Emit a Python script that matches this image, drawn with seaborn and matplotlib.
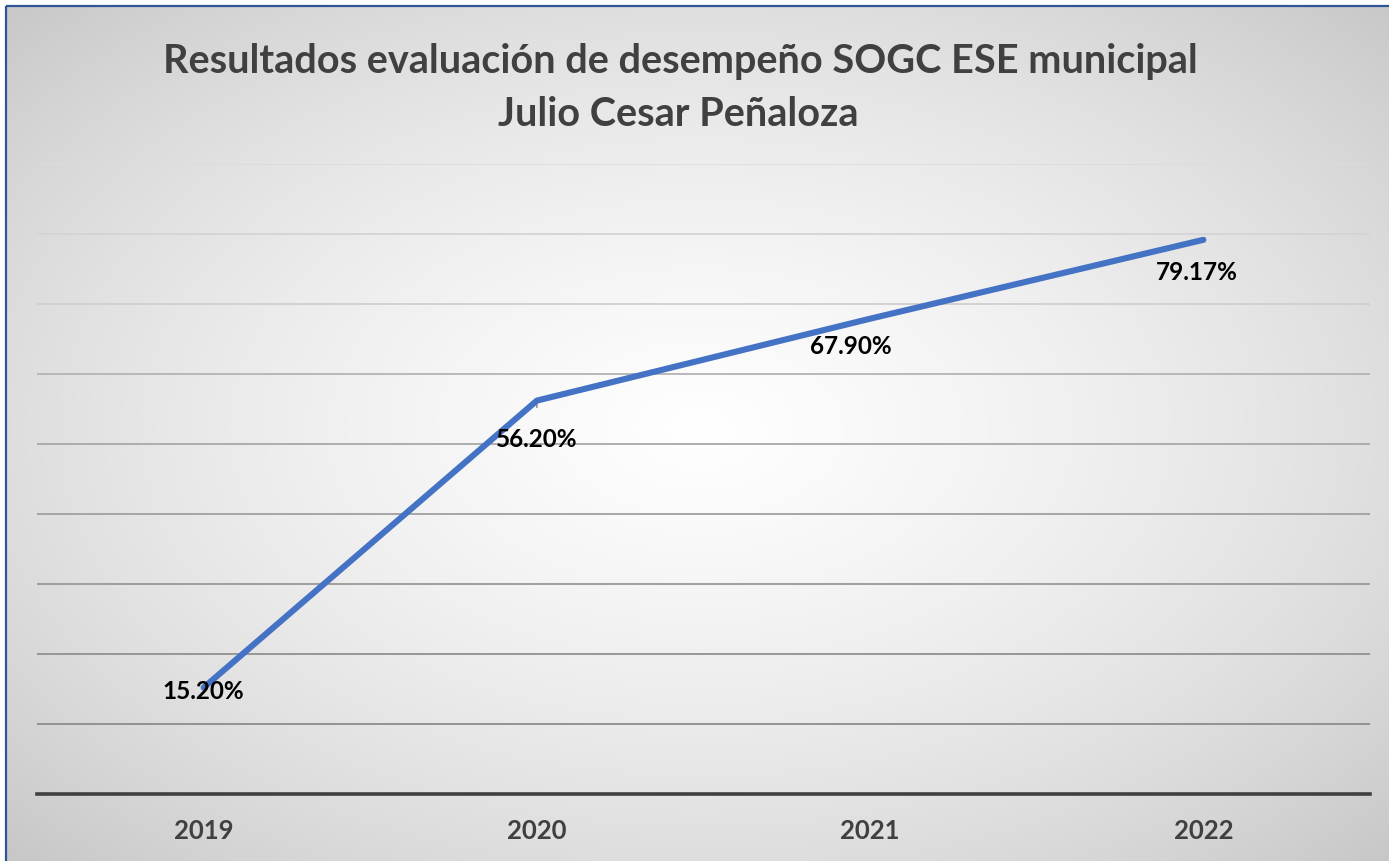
import numpy as np
import pandas as pd
import matplotlib
matplotlib.use("Agg")
import matplotlib.pyplot as plt
from matplotlib.patches import Rectangle
import seaborn as sns

years = ["2019", "2020", "2021", "2022"]
values = [0.152, 0.562, 0.679, 0.7917]
labels = ["15.20%", "56.20%", "67.90%", "79.17%"]
title_lines = ["Resultados evaluación de desempeño SOGC ESE municipal", "Julio Cesar Peñaloza"]

sns.set_theme(style="white")
plt.rcParams["font.family"] = ["Lato", "DejaVu Sans"]

W, H = 1389, 862
fig = plt.figure(figsize=(W / 100, H / 100), dpi=100)
fig.patch.set_facecolor("white")

# radial gradient background
bg = fig.add_axes([0, 0, 1, 1], zorder=0)
yy, xx = np.mgrid[0:H, 0:W]
u = (xx - 700) / (W / 2)
v = (yy - 430) / (H / 2)
d = np.sqrt(u ** 2 + v ** 2)
val = 1.0 - 0.16 * np.clip(d / 1.41, 0, 1) ** 1.1 - 0.06 * np.clip(d / 1.41, 0, 1) ** 3
img = np.dstack([val, val, val])
img[:7, :, :] = 1.0
img[:, :6, :] = 1.0
bg.imshow(img, aspect="auto", extent=[0, W, H, 0])
bg.set_xlim(0, W)
bg.set_ylim(H, 0)
bg.axis("off")
bg.add_patch(Rectangle((6, 7), W + 20, H + 20, fill=False, edgecolor="#2F5597", linewidth=1.6))

# title
bg.text(680, 61, title_lines[0], ha="center", va="center", fontsize=28.5, fontweight="bold", color="#404040")
bg.text(678, 114, title_lines[1], ha="center", va="center", fontsize=28.5, fontweight="bold", color="#404040")

ax = fig.add_axes([37 / W, 67 / H, 1333 / W, 630 / H], zorder=1)
ax.patch.set_alpha(0)
df = pd.DataFrame({"year": years, "value": values})

grid_colors = ["#dcdcdc", "#d4d4d4", "#cfcfcf", "#b4b4b4", "#a8a8a8", "#a0a0a0", "#989898", "#909090", "#8c8c8c"]
for i, g in enumerate(np.arange(0.1, 0.91, 0.1)[::-1]):
    ax.axhline(g, color=grid_colors[i], linewidth=1.3, zorder=1)

sns.lineplot(data=df, x="year", y="value", sort=False, ax=ax, color="#4472C4",
             linewidth=4.4, solid_capstyle="round", zorder=3)

offsets = [(0, -2), (0, -27), (-14, -19), (-5, -23)]
for i, (x, y, lab) in enumerate(zip(years, values, labels)):
    ax.annotate(lab, (i, y), xytext=offsets[i], textcoords="offset points",
                ha="center", va="center", fontsize=17.5, fontweight="bold", color="black", zorder=4)
# leader line for 56.20%
ax.annotate("", (1, values[1]), xytext=(0, -7), textcoords="offset points",
            arrowprops=dict(arrowstyle="-", color="#7f7f7f", lw=1), zorder=2)

ax.set_xlim(-0.5, 3.5)
ax.set_ylim(0, 0.9)
ax.set_yticks([])
ax.set_xlabel("")
ax.set_ylabel("")
for s in ["top", "right", "left"]:
    ax.spines[s].set_visible(False)
ax.spines["bottom"].set_color("#404040")
ax.spines["bottom"].set_linewidth(2.6)
ax.tick_params(axis="x", length=0, pad=17)
for t in ax.get_xticklabels():
    t.set_fontsize(18.5)
    t.set_fontweight("bold")
    t.set_color("#404040")

fig.savefig("out.png", dpi=100)
